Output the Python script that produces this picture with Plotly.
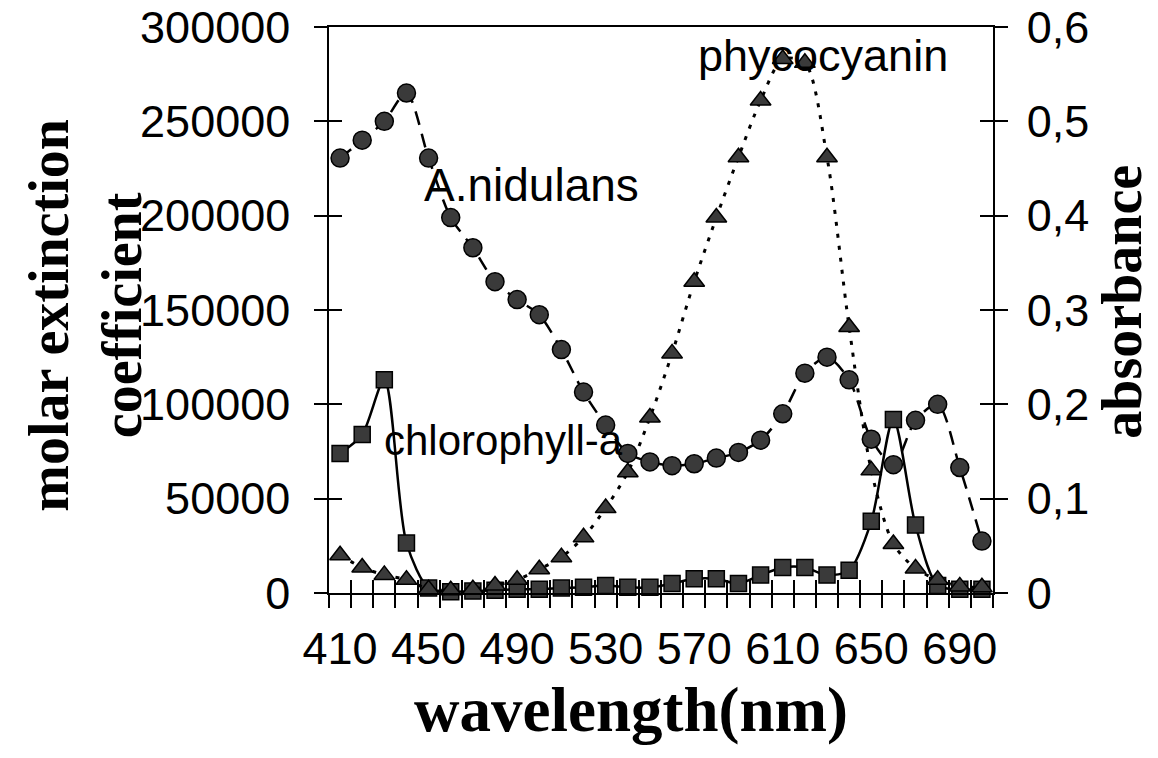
import plotly.graph_objects as go

wavelength = [410, 420, 430, 440, 450, 460, 470, 480, 490, 500,
              510, 520, 530, 540, 550, 560, 570, 580, 590, 600,
              610, 620, 630, 640, 650, 660, 670, 680, 690, 700]

# absorbance (right axis)
a_nidulans = [0.461, 0.480, 0.500, 0.530, 0.461, 0.398, 0.366, 0.330, 0.311, 0.295,
              0.258, 0.213, 0.178, 0.148, 0.139, 0.135, 0.137, 0.143, 0.149, 0.162,
              0.190, 0.233, 0.250, 0.226, 0.163, 0.136, 0.183, 0.200, 0.133, 0.055]

# molar extinction coefficient (left axis)
phycocyanin = [20000, 13500, 9600, 7000, 2000, 1500, 2000, 4000, 7000, 12600,
               19000, 29500, 45000, 64000, 93000, 127000, 165000, 199000, 231000, 261000,
               283000, 281000, 231000, 141000, 65000, 26000, 13000, 7000, 3500, 3000]

chlorophyll_a = [74000, 84000, 113000, 26500, 2600, 700, 1000, 1500, 2000, 2000,
                 2600, 3000, 4000, 3000, 3000, 5000, 7500, 7500, 5000, 9500,
                 13500, 13500, 9500, 12000, 38000, 92000, 36000, 4000, 2000, 2000]

left_ticks = [0, 50000, 100000, 150000, 200000, 250000, 300000]
left_ticktext = ["0", "50000", "100000", "150000", "200000", "250000", "300000"]
right_ticks = [0, 0.1, 0.2, 0.3, 0.4, 0.5, 0.6]
right_ticktext = ["0", "0,1", "0,2", "0,3", "0,4", "0,5", "0,6"]
x_ticks = [410, 450, 490, 530, 570, 610, 650, 690]

MARK = "#3a3a3a"
INK = "black"
SANS = "Arial, Liberation Sans, sans-serif"
SERIF = "Times New Roman, Liberation Serif, serif"
TICKSIZE = 45

fig = go.Figure()

fig.add_trace(go.Scatter(
    x=wavelength, y=chlorophyll_a, name="chlorophyll-a", mode="lines+markers",
    line=dict(color=INK, width=2.5, shape="spline", smoothing=0.8),
    marker=dict(symbol="square", size=16, color=MARK, line=dict(color=INK, width=1.5)),
    cliponaxis=False, xaxis="x", yaxis="y"))

fig.add_trace(go.Scatter(
    x=wavelength, y=a_nidulans, name="A.nidulans", mode="lines+markers",
    line=dict(color=INK, width=2.5, dash="14px,9px", shape="spline", smoothing=0.8),
    marker=dict(symbol="circle", size=18, color=MARK, line=dict(color=INK, width=1.5)),
    cliponaxis=False, xaxis="x", yaxis="y2"))

fig.add_trace(go.Scatter(
    x=wavelength, y=phycocyanin, name="phycocyanin", mode="lines+markers",
    line=dict(color=INK, width=3, dash="4px,8px", shape="spline", smoothing=0.8),
    marker=dict(symbol="triangle-up", size=18, color=MARK, line=dict(color=INK, width=1.5)),
    cliponaxis=False, xaxis="x", yaxis="y"))

# empty traces to carry the inward-pointing tick overlay axes
fig.add_trace(go.Scatter(x=[None], y=[None], xaxis="x3", yaxis="y3", showlegend=False, hoverinfo="skip"))
fig.add_trace(go.Scatter(x=[None], y=[None], xaxis="x3", yaxis="y4", showlegend=False, hoverinfo="skip"))

XR = [405, 705]
YR = [0, 300000]
Y2R = [0, 0.6]

fig.update_layout(
    width=1158, height=758,
    margin=dict(l=329, r=165, t=27, b=165),
    paper_bgcolor="white", plot_bgcolor="white",
    showlegend=False,
    font=dict(family=SANS, color=INK),
    xaxis=dict(range=XR, tickvals=x_ticks, ticks="", showgrid=False, zeroline=False,
               automargin=False, ticklabeloverflow="allow",
               showline=True, linecolor=INK, linewidth=1.5, mirror=True,
               tickfont=dict(size=TICKSIZE, family=SANS, color=INK), ticklabelstandoff=15,
               minor=dict(tick0=405, dtick=10, ticks="outside", ticklen=13, tickwidth=1.5,
                          tickcolor=INK, showgrid=False)),
    xaxis3=dict(range=XR, overlaying="x", anchor="y3", showticklabels=False, showgrid=False,
                automargin=False,
                zeroline=False, showline=False, tick0=405, dtick=10, ticks="inside",
                ticklen=13, tickwidth=1.5, tickcolor=INK),
    yaxis=dict(range=YR, tickvals=left_ticks, ticktext=left_ticktext, ticks="outside",
               ticklen=13, tickwidth=1.5, automargin=False, ticklabeloverflow="allow",
               tickcolor=INK, showgrid=False, zeroline=False, showline=True, linecolor=INK,
               linewidth=1.5, tickfont=dict(size=TICKSIZE, family=SANS, color=INK),
               ticklabelstandoff=15),
    yaxis2=dict(range=Y2R, tickvals=right_ticks, ticktext=right_ticktext, overlaying="y",
                side="right", anchor="x", ticks="outside", ticklen=13, tickwidth=1.5,
                automargin=False, ticklabeloverflow="allow",
                tickcolor=INK, showgrid=False, zeroline=False, showline=True, linecolor=INK,
                linewidth=1.5, tickfont=dict(size=TICKSIZE, family=SANS, color=INK),
                ticklabelstandoff=10),
    yaxis3=dict(range=YR, tickvals=left_ticks, overlaying="y", side="left", anchor="x3",
                ticks="inside", ticklen=13, tickwidth=1.5, tickcolor=INK, automargin=False,
                showticklabels=False, showgrid=False, zeroline=False, showline=False),
    yaxis4=dict(range=Y2R, tickvals=right_ticks, overlaying="y", side="right", anchor="x3",
                ticks="inside", ticklen=13, tickwidth=1.5, tickcolor=INK, automargin=False,
                showticklabels=False, showgrid=False, zeroline=False, showline=False),
)

annotations = [
    dict(text="A.nidulans", x=447, y=216000, xref="x", yref="y", xanchor="left",
         yanchor="middle", showarrow=False, font=dict(size=46, family=SANS, color=INK)),
    dict(text="phycocyanin", x=571, y=285000, xref="x", yref="y", xanchor="left",
         yanchor="middle", showarrow=False, font=dict(size=45, family=SANS, color=INK)),
    dict(text="chlorophyll-a", x=429, y=81000, xref="x", yref="y", xanchor="left",
         yanchor="middle", showarrow=False, font=dict(size=42, family=SANS, color=INK)),
    dict(text="<b>wavelength(nm)</b>", x=0.455, y=-0.206, xref="paper", yref="paper",
         xanchor="center", yanchor="middle", showarrow=False,
         font=dict(size=63, family=SERIF, color=INK)),
    dict(text="<b>molar extinction<br>coefficient</b>", x=-0.366, y=0.49, xref="paper",
         yref="paper", xanchor="center", yanchor="middle", textangle=-90, showarrow=False,
         font=dict(size=56, family=SERIF, color=INK)),
    dict(text="<b>absorbance</b>", x=1.193, y=0.515, xref="paper", yref="paper",
         xanchor="center", yanchor="middle", textangle=-90, showarrow=False,
         font=dict(size=56, family=SERIF, color=INK)),
]
fig.update_layout(annotations=annotations)

fig.write_html("out.html", config={"displayModeBar": False},
               post_script="document.body.style.margin='0';document.body.style.overflow='hidden';")
